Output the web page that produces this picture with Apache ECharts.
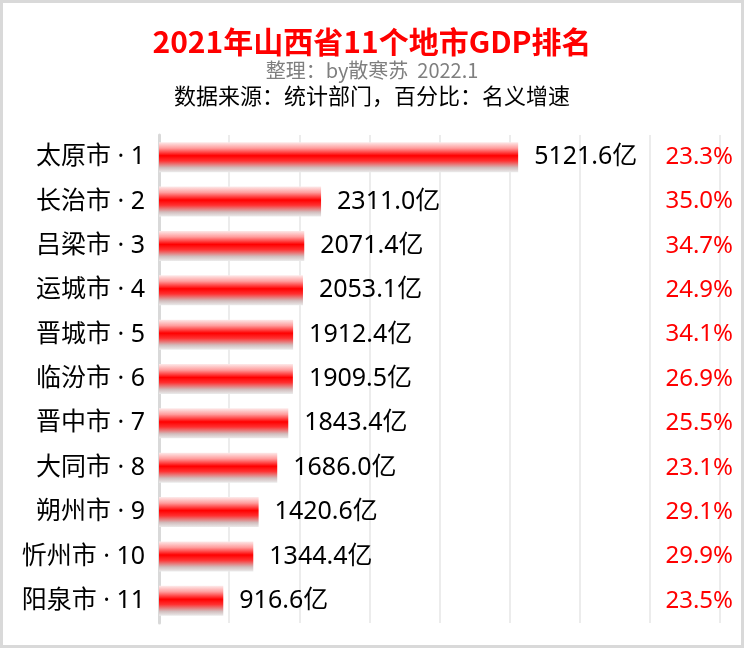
<!DOCTYPE html>
<html>
<head>
<meta charset="utf-8">
<script src="https://cdn.jsdelivr.net/npm/echarts@6/dist/echarts.min.js"></script>
<style>
  html, body { margin: 0; padding: 0; background: #fff; }
  #main { width: 744px; height: 648px; }
</style>
</head>
<body>
<div id="main"></div>
<script>
// 城市（按排名）
const cities = ['太原市', '长治市', '吕梁市', '运城市', '晋城市', '临汾市', '晋中市', '大同市', '朔州市', '忻州市', '阳泉市'];
// GDP（亿元）
const gdp = [5121.6, 2311.0, 2071.4, 2053.1, 1912.4, 1909.5, 1843.4, 1686.0, 1420.6, 1344.4, 916.6];
// 名义增速（%）
const growth = [23.3, 35.0, 34.7, 24.9, 34.1, 26.9, 25.5, 23.1, 29.1, 29.9, 23.5];

const FONT = '"Noto Sans CJK SC", "Noto Sans", sans-serif';
// 数字和间隔点用西文字体，汉字回落到 CJK
const LABEL_FONT = '"Noto Sans", "Noto Sans CJK SC", sans-serif';

const chart = echarts.init(document.getElementById('main'), null, { renderer: 'canvas' });

// 分类标签：城市 · 排名
const cityLabels = cities.map((c, i) => c + ' \u00B7 ' + (i + 1));
const growthLabels = growth.map(v => v.toFixed(1) + '%');

// 柱子的渐变（上浅、中红、下灰）
const barColor = new echarts.graphic.LinearGradient(0, 0, 0, 1, [
  { offset: 0, color: '#fdeaea' },
  { offset: 0.2, color: '#ff9c9c' },
  { offset: 0.45, color: '#ff0000' },
  { offset: 0.62, color: '#ff3030' },
  { offset: 0.85, color: '#d2bcbc' },
  { offset: 1, color: '#ebebeb' }
]);

const option = {
  backgroundColor: '#fff',
  animation: false,
  title: [
    {
      text: '2021年山西省11个地市GDP排名',
      left: 'center',
      top: 22,
      textStyle: { color: '#ff0000', fontSize: 30, fontWeight: 'bold', fontFamily: FONT }
    },
    {
      text: '整理：by散寒苏  2022.1',
      left: 'center',
      top: 55,
      textStyle: { color: '#7f7f7f', fontSize: 20, fontWeight: 'normal', fontFamily: FONT }
    },
    {
      text: '数据来源：统计部门，百分比：名义增速',
      left: 'center',
      top: 80,
      textStyle: { color: '#000', fontSize: 22, fontWeight: 'normal', fontFamily: FONT }
    }
  ],
  graphic: [
    {
      type: 'rect',
      shape: { x: 1.5, y: 1.5, width: 741, height: 645 },
      style: { fill: 'none', stroke: '#d9d9d9', lineWidth: 3 },
      silent: true
    }
  ],
  grid: {
    left: 159,
    right: 24,
    top: 135,
    bottom: 25
  },
  xAxis: {
    type: 'value',
    min: 0,
    max: 8000,
    interval: 1000,
    axisLabel: { show: false },
    axisLine: { show: false },
    axisTick: { show: false },
    splitLine: { lineStyle: { color: '#ececec', width: 2 } }
  },
  yAxis: [
    {
      type: 'category',
      inverse: true,
      data: cityLabels,
      axisLine: { lineStyle: { color: '#d9d9d9', width: 3 } },
      axisTick: { show: false },
      axisLabel: { color: '#000', fontSize: 25, fontFamily: LABEL_FONT, margin: 14 }
    },
    {
      type: 'category',
      inverse: true,
      position: 'right',
      data: growthLabels,
      axisLine: { show: false },
      axisTick: { show: false },
      axisLabel: { color: '#ff0000', fontSize: 24, fontFamily: LABEL_FONT, align: 'right', margin: 13 }
    }
  ],
  series: [
    {
      type: 'bar',
      data: gdp,
      barWidth: 30,
      itemStyle: { color: barColor },
      label: {
        show: true,
        position: 'right',
        distance: 16,
        color: '#000',
        fontSize: 25,
        fontFamily: LABEL_FONT,
        formatter: p => p.value.toFixed(1) + '亿'
      }
    }
  ]
};

chart.setOption(option);
</script>
</body>
</html>
